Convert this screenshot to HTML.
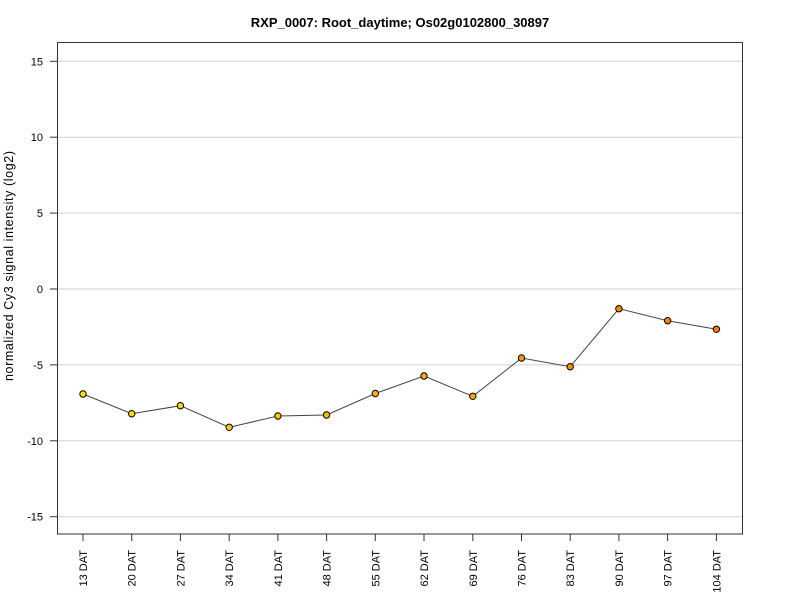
<!DOCTYPE html>
<html><head><meta charset="utf-8"><style>
html,body{margin:0;padding:0;background:#fff;}
svg{display:block;font-family:"Liberation Sans",Arial,sans-serif;}
</style></head><body>
<svg width="800" height="600" viewBox="0 0 800 600" xmlns="http://www.w3.org/2000/svg">
<rect width="800" height="600" fill="#fff"/>
<text x="400" y="27" text-anchor="middle" font-size="13" font-weight="bold" fill="#000">RXP_0007: Root_daytime; Os02g0102800_30897</text>
<g stroke="#d3d3d3" stroke-width="1">
<line x1="57" x2="742" y1="61.3" y2="61.3"/>
<line x1="57" x2="742" y1="137.2" y2="137.2"/>
<line x1="57" x2="742" y1="213.1" y2="213.1"/>
<line x1="57" x2="742" y1="289" y2="289"/>
<line x1="57" x2="742" y1="364.9" y2="364.9"/>
<line x1="57" x2="742" y1="440.8" y2="440.8"/>
<line x1="57" x2="742" y1="516.7" y2="516.7"/>
</g>
<rect x="57.5" y="42.5" width="685" height="491.5" fill="none" stroke="#333" stroke-width="1"/>
<g stroke="#333" stroke-width="1">
<line x1="50" x2="57" y1="61.3" y2="61.3"/>
<line x1="50" x2="57" y1="137.2" y2="137.2"/>
<line x1="50" x2="57" y1="213.1" y2="213.1"/>
<line x1="50" x2="57" y1="289" y2="289"/>
<line x1="50" x2="57" y1="364.9" y2="364.9"/>
<line x1="50" x2="57" y1="440.8" y2="440.8"/>
<line x1="50" x2="57" y1="516.7" y2="516.7"/>
</g>
<g font-size="11" text-anchor="end" fill="#000">
<text x="43" y="65.3">15</text>
<text x="43" y="141.2">10</text>
<text x="43" y="217.1">5</text>
<text x="43" y="293">0</text>
<text x="43" y="368.9">-5</text>
<text x="43" y="444.8">-10</text>
<text x="43" y="520.7">-15</text>
</g>
<text transform="translate(13,381) rotate(-90)" font-size="12.5" textLength="230" lengthAdjust="spacing" fill="#000">normalized Cy3 signal intensity (log2)</text>
<g stroke="#333" stroke-width="1">
<line x1="83" x2="83" y1="534" y2="541"/>
<line x1="131.7" x2="131.7" y1="534" y2="541"/>
<line x1="180.4" x2="180.4" y1="534" y2="541"/>
<line x1="229.2" x2="229.2" y1="534" y2="541"/>
<line x1="277.9" x2="277.9" y1="534" y2="541"/>
<line x1="326.6" x2="326.6" y1="534" y2="541"/>
<line x1="375.3" x2="375.3" y1="534" y2="541"/>
<line x1="424" x2="424" y1="534" y2="541"/>
<line x1="472.8" x2="472.8" y1="534" y2="541"/>
<line x1="521.5" x2="521.5" y1="534" y2="541"/>
<line x1="570.2" x2="570.2" y1="534" y2="541"/>
<line x1="618.9" x2="618.9" y1="534" y2="541"/>
<line x1="667.6" x2="667.6" y1="534" y2="541"/>
<line x1="716.4" x2="716.4" y1="534" y2="541"/>
</g>
<g font-size="11" text-anchor="end" fill="#000">
<text transform="translate(87,550) rotate(-90)">13 DAT</text>
<text transform="translate(135.7,550) rotate(-90)">20 DAT</text>
<text transform="translate(184.4,550) rotate(-90)">27 DAT</text>
<text transform="translate(233.2,550) rotate(-90)">34 DAT</text>
<text transform="translate(281.9,550) rotate(-90)">41 DAT</text>
<text transform="translate(330.6,550) rotate(-90)">48 DAT</text>
<text transform="translate(379.3,550) rotate(-90)">55 DAT</text>
<text transform="translate(428,550) rotate(-90)">62 DAT</text>
<text transform="translate(476.8,550) rotate(-90)">69 DAT</text>
<text transform="translate(525.5,550) rotate(-90)">76 DAT</text>
<text transform="translate(574.2,550) rotate(-90)">83 DAT</text>
<text transform="translate(622.9,550) rotate(-90)">90 DAT</text>
<text transform="translate(671.6,550) rotate(-90)">97 DAT</text>
<text transform="translate(720.4,550) rotate(-90)">104 DAT</text>
</g>
<polyline fill="none" stroke="#444" stroke-width="1" points="83,394 131.7,413.7 180.4,405.7 229.2,427.3 277.9,416 326.6,415 375.3,393.5 424,376 472.8,396.3 521.5,358 570.2,366.7 618.9,308.7 667.6,320.7 716.4,329.3"/>
<g stroke="#000" stroke-width="1">
<circle cx="83" cy="394" r="3.2" fill="#ffe400"/>
<circle cx="131.7" cy="413.7" r="3.2" fill="#ffdc00"/>
<circle cx="180.4" cy="405.7" r="3.2" fill="#ffd400"/>
<circle cx="229.2" cy="427.3" r="3.2" fill="#ffcb00"/>
<circle cx="277.9" cy="416" r="3.2" fill="#ffc300"/>
<circle cx="326.6" cy="415" r="3.2" fill="#ffbb00"/>
<circle cx="375.3" cy="393.5" r="3.2" fill="#ffb200"/>
<circle cx="424" cy="376" r="3.2" fill="#ffaa00"/>
<circle cx="472.8" cy="396.3" r="3.2" fill="#ffa200"/>
<circle cx="521.5" cy="358" r="3.2" fill="#ff9900"/>
<circle cx="570.2" cy="366.7" r="3.2" fill="#ff9100"/>
<circle cx="618.9" cy="308.7" r="3.2" fill="#ff8900"/>
<circle cx="667.6" cy="320.7" r="3.2" fill="#ff8000"/>
<circle cx="716.4" cy="329.3" r="3.2" fill="#ff7800"/>
</g>
</svg>
</body></html>
